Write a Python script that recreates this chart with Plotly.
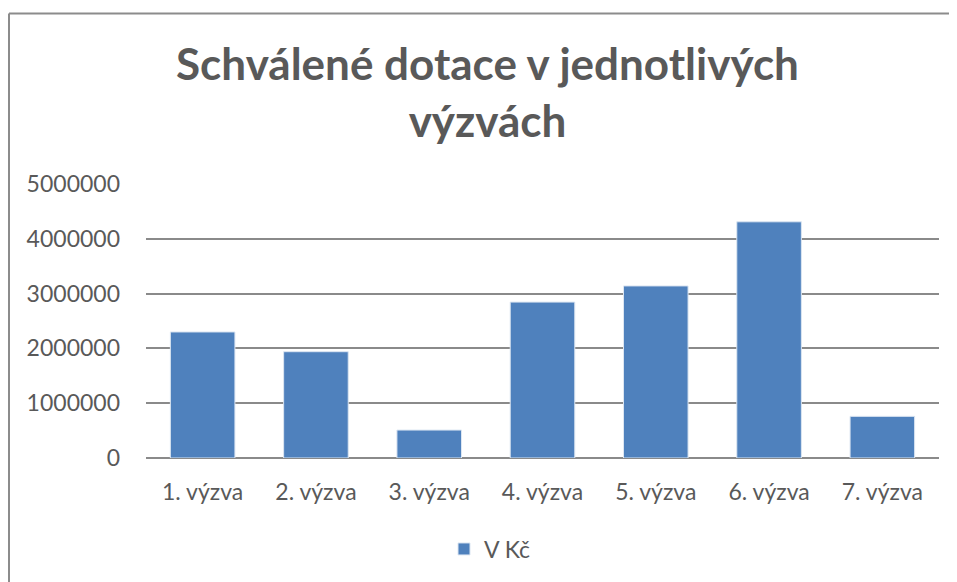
import plotly.graph_objects as go

categories = ["1. výzva", "2. výzva", "3. výzva", "4. výzva", "5. výzva", "6. výzva", "7. výzva"]
values = [2300000, 1940000, 510000, 2845000, 3140000, 4310000, 760000]
series_name = "V Kč"
title_text = "Schválené dotace v jednotlivých<br>výzvách"
tick_vals = [0, 1000000, 2000000, 3000000, 4000000, 5000000]

# the page renders the figure offset by the body's 8px margin
OFF = 8
W, H = 957, 582
L = 146 - OFF
T = 184 - OFF
R = W - (939 - OFF)
B = H - (458 - OFF)
pw, ph = W - L - R, H - T - B

bx0 = (1 - L) / pw
by_top = 1 + (T - 5.5) / ph

fig = go.Figure()
fig.add_trace(go.Bar(
    x=categories, y=values, name=series_name,
    marker=dict(color="#4f81bd", line=dict(color="#dce6f2", width=1)),
    showlegend=True,
))

fig.update_layout(
    width=W, height=H,
    margin=dict(l=L, r=R, t=T, b=B, autoexpand=False),
    paper_bgcolor="white", plot_bgcolor="white",
    font=dict(family="Lato, sans-serif", color="#595959", size=23),
    title=dict(text=title_text, x=(487.5 - OFF) / W, xanchor="center", y=1 - 71.5 / H, yanchor="middle",
               xref="container", yref="container",
               font=dict(family="Lato, sans-serif", size=44, color="#595959", weight="bold")),
    bargap=0.43,
    xaxis=dict(showgrid=False, showline=False, ticks="", tickfont=dict(size=23, color="#595959"),
               ticklabelstandoff=18),
    yaxis=dict(range=[0, 5000000], tickvals=tick_vals, tickformat="d",
               showgrid=True, gridcolor="#8a8a8a", gridwidth=1.5,
               zeroline=True, zerolinecolor="#8a8a8a", zerolinewidth=1.5,
               showline=False, ticks="", tickfont=dict(size=23, color="#595959"),
               ticklabelstandoff=25),
    legend=dict(orientation="h", xref="container", yref="container",
                x=436 / W, xanchor="left", y=1 - (549 - OFF) / H, yanchor="middle",
                font=dict(size=23, color="#595959"), bgcolor="rgba(0,0,0,0)"),
    shapes=[
        dict(type="line", xref="paper", yref="paper", x0=bx0, x1=bx0, y0=-1.0, y1=by_top,
             line=dict(color="#8c8c8c", width=2), layer="below"),
        dict(type="line", xref="paper", yref="paper", x0=bx0, x1=1.2, y0=by_top, y1=by_top,
             line=dict(color="#8c8c8c", width=2), layer="below"),
    ],
)

fig.write_html("out.html")
